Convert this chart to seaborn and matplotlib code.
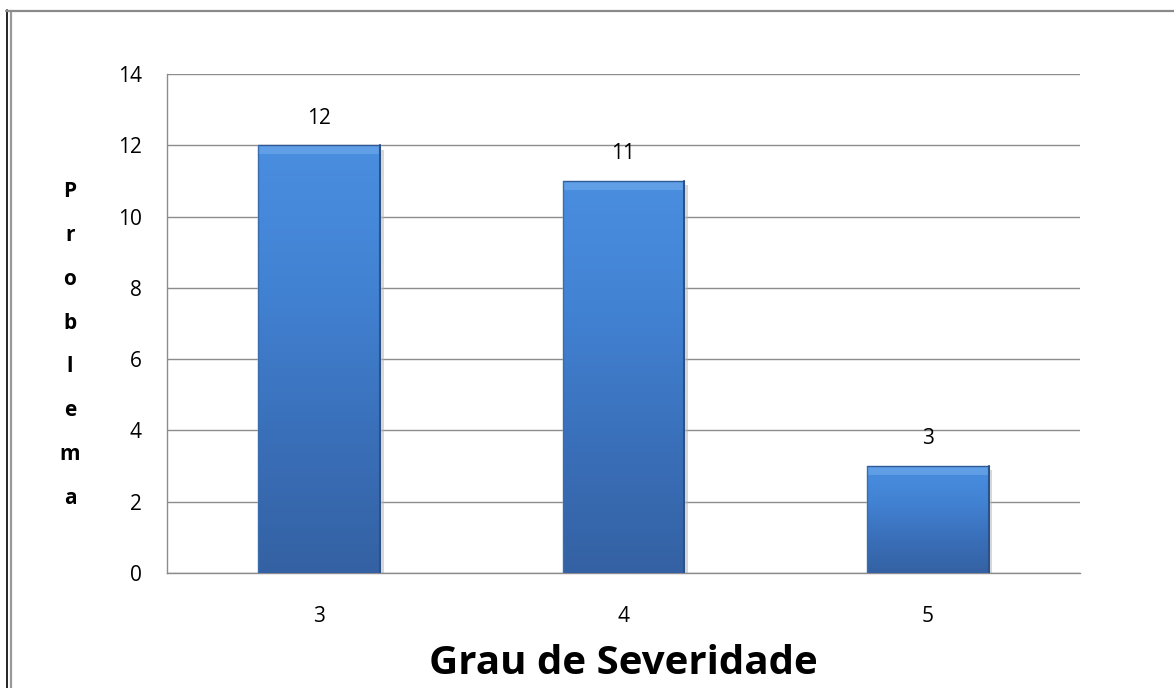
import numpy as np
import pandas as pd
import seaborn as sns
import matplotlib.pyplot as plt
from matplotlib.lines import Line2D
from matplotlib.colors import LinearSegmentedColormap

# ---------------------------
# Data
# ---------------------------

graus = ["3", "4", "5"]
problemas = [12, 11, 3]

df = pd.DataFrame({"grau": graus, "problemas": problemas})

# ---------------------------
# Style
# ---------------------------

sns.set_style("white")
plt.rcParams["font.family"] = ["Open Sans", "DejaVu Sans"]
plt.rcParams["text.color"] = "black"
plt.rcParams["axes.labelcolor"] = "black"
plt.rcParams["xtick.labelcolor"] = "black"
plt.rcParams["ytick.labelcolor"] = "black"

grid_color = "#8c8c8c"

fig = plt.figure(figsize=(11.74, 6.88), dpi=100)
ax = fig.add_axes([0.1422, 0.1672, 0.7777, 0.7253])

sns.barplot(data=df, x="grau", y="problemas", color="#3f7dcc",
            width=0.4, saturation=1, ax=ax, zorder=3)

# gradient fill on each bar
cmap = LinearSegmentedColormap.from_list(
    "bar", ["#3461a3", "#3a70ba", "#4282d3", "#4a8ee0"])
grad = np.linspace(0, 1, 256).reshape(-1, 1)
for p in ax.patches:
    x0, y0 = p.get_x(), p.get_y()
    w, h = p.get_width(), p.get_height()
    # shadow
    ax.add_patch(plt.Rectangle((x0 + 0.012, y0 - 0.12), w, h, color="#b0b0b0",
                               alpha=0.5, zorder=2, lw=0))
    im = ax.imshow(grad, extent=[x0, x0 + w, y0, y0 + h], origin="lower",
                   cmap=cmap, aspect="auto", zorder=3.5)
    im.set_clip_path(p)
    # bevel highlight at top
    ax.add_patch(plt.Rectangle((x0, y0 + h - 0.25), w, 0.25, color="#6aa6ea",
                               alpha=0.7, zorder=4, lw=0))
    ax.plot([x0, x0 + w], [y0 + h, y0 + h], color="#2d5a96", lw=1, zorder=4)
    ax.plot([x0 + w, x0 + w], [y0, y0 + h], color="#2b5288", lw=1.5, zorder=4)
    ax.plot([x0, x0], [y0, y0 + h], color="#3a6cae", lw=1, zorder=4)

for c in ax.containers:
    ax.bar_label(c, padding=12, fontsize=15, color="black")

# ---------------------------
# Axes
# ---------------------------

ax.set_xlim(-0.5, 2.5)
ax.set_ylim(0, 14)
ax.set_yticks(range(0, 15, 2))
ax.yaxis.grid(True, color=grid_color, lw=1, zorder=0)
ax.set_axisbelow(True)

ax.set_xticks([-0.5, 0.5, 1.5, 2.5], minor=True)
ax.tick_params(axis="x", which="major", length=0, pad=24, labelsize=15)
ax.tick_params(axis="x", which="minor", length=6, color=grid_color, width=1)
ax.tick_params(axis="y", length=6, color=grid_color, width=1, labelsize=15, pad=12)

for side in ["top", "right"]:
    ax.spines[side].set_visible(False)
for side in ["left", "bottom"]:
    ax.spines[side].set_color(grid_color)
    ax.spines[side].set_linewidth(1)

ax.set_xlabel("Grau de Severidade", fontsize=29, fontweight="bold", labelpad=12)
ax.set_ylabel("")

fig.text(70 / 1174, 1 - 345 / 688, "\n".join("Problema"), ha="center",
         va="center", fontsize=15, fontweight="bold", linespacing=2.42)

# ---------------------------
# Border
# ---------------------------

W, H = 1174, 688
fig.add_artist(Line2D([6.5 / W, 6.5 / W], [0, 1 - 10 / H], color="black", lw=1.2,
                      transform=fig.transFigure))
fig.add_artist(Line2D([11 / W, 11 / W], [0, 1 - 11 / H], color="#999999", lw=1.6,
                      transform=fig.transFigure))
fig.add_artist(Line2D([6 / W, 1], [1 - 10.5 / H, 1 - 10.5 / H], color="#8a8a8a", lw=1.6,
                      transform=fig.transFigure))

fig.savefig("out.png", dpi=100)
